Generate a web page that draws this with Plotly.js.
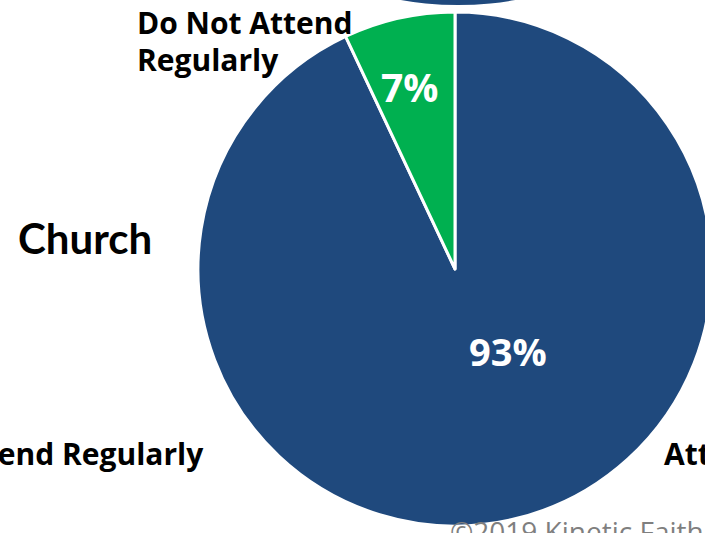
<!DOCTYPE html>
<html>
<head>
<meta charset="utf-8">
<script src="https://cdn.plot.ly/plotly-3.0.1.min.js"></script>
<style>
html,body{margin:0;padding:0;overflow:hidden;background:#fff;width:705px;height:533px;}
#chart{position:absolute;left:0;top:0;}
</style>
</head>
<body>
<div id="chart"></div>
<script>
// ---- data ----
var categories = ["Attend Regularly", "Do Not Attend Regularly"];
var values = [93, 7];
var sliceColors = ["#1F497D", "#00B050"];
var groupLabel = "Church";
var topLabelLines = ["Do Not Attend", "Regularly"];
var outerLabels = ["Attend Regularly", "Attend Regularly"];
var footer = "\u00A92019 Kinetic Faith";

// ---- layout geometry (pixels) ----
var W = 910, H = 533;
function px(x){ return x / W; }
function py(y){ return 1 - y / H; }

var total = values.reduce(function(a,b){return a+b;}, 0);
function pct(v){ return Math.round(v / total * 100) + "%"; }

var OPEN = "'Open Sans', sans-serif";
var LATO = "Lato, 'Open Sans', sans-serif";

var trace = {
  type: "pie",
  labels: categories,
  values: values,
  sort: false,
  direction: "clockwise",
  rotation: 0,
  textinfo: "none",
  hoverinfo: "label+percent",
  marker: { colors: sliceColors, line: { color: "#FFFFFF", width: 3 } },
  domain: { x: [0, 1], y: [7 / H, 1 - 12 / H] },
  showlegend: false
};

var annotations = [
  { text: "<b>" + topLabelLines[0] + "</b>", x: px(135), y: py(23), xanchor: "left", yanchor: "middle",
    font: { family: OPEN, size: 30, color: "#000" } },
  { text: "<b>" + topLabelLines[1] + "</b>", x: px(135), y: py(60), xanchor: "left", yanchor: "middle",
    font: { family: OPEN, size: 30, color: "#000" } },
  { text: "<b>" + groupLabel + "</b>", x: px(16), y: py(238), xanchor: "left", yanchor: "middle",
    font: { family: LATO, size: 42, color: "#000" } },
  { text: "<b>" + pct(values[1]) + "</b>", x: px(409), y: py(87), xanchor: "center", yanchor: "middle",
    font: { family: OPEN, size: 39, color: "#FFF" } },
  { text: "<b>" + pct(values[0]) + "</b>", x: px(508), y: py(351), xanchor: "center", yanchor: "middle",
    font: { family: OPEN, size: 38, color: "#FFF" } },
  { text: "<b>" + outerLabels[0] + "</b>", x: px(206), y: py(453), xanchor: "right", yanchor: "middle",
    font: { family: OPEN, size: 30, color: "#000" } },
  { text: "<b>" + outerLabels[1] + "</b>", x: px(662), y: py(453), xanchor: "left", yanchor: "middle",
    font: { family: OPEN, size: 30, color: "#000" } },
  { text: footer, x: px(448), y: py(531), xanchor: "left", yanchor: "middle",
    font: { family: OPEN, size: 28, color: "#7F7F7F" } }
];
annotations.forEach(function(a){ a.xref = "paper"; a.yref = "paper"; a.showarrow = false; });

var shapes = [
  { type: "circle", xref: "paper", yref: "paper", layer: "below",
    x0: px(458 - 330), x1: px(458 + 330), y0: py(5), y1: py(5 - 660),
    fillcolor: "#1F497D", line: { width: 0 } }
];

var layout = {
  width: W, height: H,
  margin: { l: 0, r: 0, t: 0, b: 0, pad: 0 },
  paper_bgcolor: "#FFFFFF",
  plot_bgcolor: "#FFFFFF",
  annotations: annotations,
  shapes: shapes
};

Plotly.newPlot("chart", [trace], layout, { displayModeBar: false, staticPlot: true });
</script>
</body>
</html>
